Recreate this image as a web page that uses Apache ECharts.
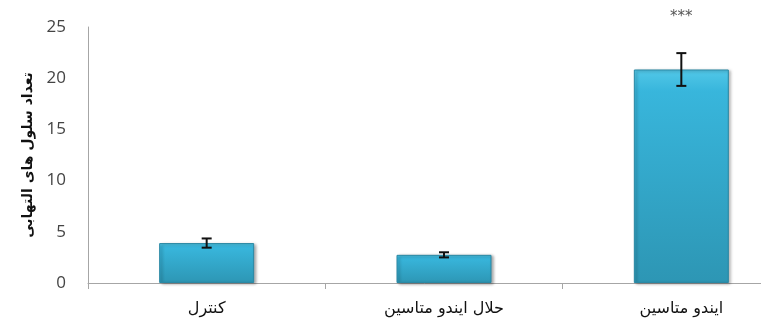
<!DOCTYPE html>
<html>
<head>
<meta charset="utf-8">
<script src="https://cdn.jsdelivr.net/npm/echarts@6/dist/echarts.min.js"></script>
<style>
  html, body { margin: 0; padding: 0; background: #fff; }
  #chart { width: 761px; height: 322px; }
</style>
</head>
<body>
<div id="chart"></div>
<script>
// Groups, mean counts, error half-widths and significance marks
const categories = ['کنترل', 'حلال ایندو متاسین', 'ایندو متاسین'];
const meanValues = [3.9, 2.75, 20.85];
const errorValues = [0.45, 0.25, 1.6];
const significance = ['', '', '***'];
const yTicks = [0, 5, 10, 15, 20, 25];

const chart = echarts.init(document.getElementById('chart'));

const barGradient = new echarts.graphic.LinearGradient(0, 0, 0, 1, [
  { offset: 0, color: '#52c8e8' },
  { offset: 0.1, color: '#38b6dc' },
  { offset: 1, color: '#2d96b4' }
]);

chart.setOption({
  animation: false,
  // the plot runs past the right edge of the canvas
  grid: { left: 88, top: 27, right: -39, bottom: 39, outerBoundsMode: 'none', containLabel: false },
  xAxis: {
    type: 'category',
    data: categories,
    axisLine: { lineStyle: { color: '#a6a6a6', width: 1 } },
    axisTick: { show: true, length: 6, lineStyle: { color: '#a6a6a6' } },
    axisLabel: { fontFamily: 'DejaVu Sans', fontSize: 16, color: '#111', margin: 18 }
  },
  yAxis: {
    type: 'value',
    min: yTicks[0],
    max: yTicks[yTicks.length - 1],
    interval: 5,
    name: 'تعداد سلول های التهابی',
    nameLocation: 'middle',
    nameGap: 52,
    nameTextStyle: { fontFamily: 'DejaVu Sans', fontSize: 14, fontWeight: 'bold', color: '#111' },
    axisLine: { show: true, lineStyle: { color: '#a6a6a6', width: 1 } },
    axisTick: { show: false },
    splitLine: { show: false },
    axisLabel: { fontFamily: 'Open Sans', fontSize: 17, color: '#444', margin: 22 }
  },
  series: [
    {
      type: 'bar',
      data: meanValues,
      barWidth: 95,
      itemStyle: {
        color: barGradient,
        borderColor: '#2a88a4',
        borderWidth: 1,
        shadowColor: 'rgba(0,0,0,0.35)',
        shadowBlur: 3,
        shadowOffsetX: 2,
        shadowOffsetY: 1
      }
    },
    {
      // error bars with caps, plus significance stars above them
      type: 'custom',
      data: meanValues.map((m, i) => [i, m - errorValues[i], m + errorValues[i]]),
      renderItem: function (params, api) {
        const i = api.value(0);
        const lo = api.coord([i, api.value(1)]);
        const hi = api.coord([i, api.value(2)]);
        const half = 5;
        const style = { stroke: '#111', lineWidth: 2 };
        const children = [
          { type: 'line', shape: { x1: hi[0], y1: hi[1], x2: lo[0], y2: lo[1] }, style: style },
          { type: 'line', shape: { x1: hi[0] - half, y1: hi[1], x2: hi[0] + half, y2: hi[1] }, style: style },
          { type: 'line', shape: { x1: lo[0] - half, y1: lo[1], x2: lo[0] + half, y2: lo[1] }, style: style }
        ];
        const mark = significance[i];
        if (mark) {
          children.push({
            type: 'text',
            style: {
              x: hi[0], y: hi[1] - 36, text: mark,
              align: 'center', verticalAlign: 'middle',
              fontFamily: 'DejaVu Sans', fontSize: 15, fill: '#555'
            }
          });
        }
        return { type: 'group', children: children };
      },
      z: 5
    }
  ]
});
</script>
</body>
</html>
